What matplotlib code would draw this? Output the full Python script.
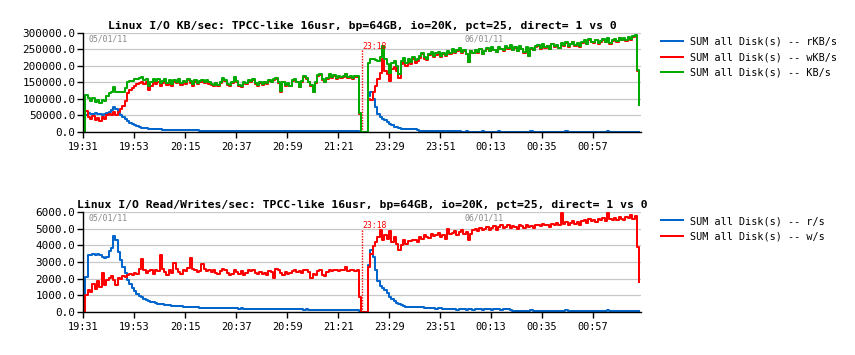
import numpy as np
import matplotlib
matplotlib.use("Agg")
import matplotlib.pyplot as plt

# ---------------- data (one sample per minute of elapsed chart time) ----------------
tick_labels = ["19:31", "19:53", "20:15", "20:37", "20:59", "21:21",
               "23:29", "23:51", "00:13", "00:35", "00:57"]
tick_minutes = [0, 22, 44, 66, 88, 110, 132, 154, 176, 198, 220]
restart_minute = 120.3
restart_label = "23:18"
date_labels = ["05/01/11", "06/01/11"]

rkb = [
    0, 50000, 57000, 56000, 55000, 57000, 55000, 54000, 53000, 55000,
    58000, 62000, 68000, 75000, 70000, 58000, 50000, 44000, 38000, 32000,
    27000, 23000, 20000, 17000, 15000, 13500, 12000, 11000, 10500, 10000,
    9500, 9000, 8500, 8000, 7500, 7000, 6800, 6500, 6200, 6000,
    5800, 5600, 5500, 5300, 5200, 5000, 5000, 4800, 4700, 4600,
    4500, 4400, 4300, 4200, 4200, 4100, 4000, 4000, 3900, 3800,
    3800, 3700, 3700, 3600, 3600, 3500, 3500, 3400, 3400, 3300,
    3300, 3200, 3200, 3200, 3100, 3100, 3100, 3000, 3000, 3000,
    2900, 2900, 2900, 2900, 2800, 2800, 2800, 2800, 2700, 2700,
    2700, 2700, 2600, 2600, 2600, 2600, 2500, 2500, 2500, 2500,
    2500, 2400, 2400, 2400, 2400, 2400, 2300, 2300, 2300, 2300,
    2300, 2300, 2200, 2200, 2200, 2200, 2200, 2200, 2200, 1500,
    0, 0, 0, 110000, 122000, 100000, 77000, 55000, 46000, 40000,
    36000, 30000, 24000, 20000, 16500, 14000, 12000, 10500, 9500, 9000,
    8500, 8000, 8000, 7800, 7500, 4500, 4200, 4200, 4000, 4000,
    4000, 3900, 4000, 3800, 3800, 3800, 3700, 3700, 3600, 3600,
    3500, 3500, 3400, 1500, 1500, 1600, 1500, 1500, 1500, 1500,
    1500, 1500, 1600, 1500, 1500, 1500, 1500, 1500, 1500, 1600,
    1500, 1500, 1500, 1500, 1500, 1500, 1500, 1500, 1500, 1500,
    1500, 1500, 1500, 1600, 1500, 1500, 1500, 1500, 1500, 1500,
    1500, 1500, 1500, 1500, 1500, 1500, 1500, 1500, 1600, 1500,
    1500, 1500, 1500, 1500, 1500, 1500, 1500, 1500, 1500, 1500,
    1500, 1500, 1500, 1500, 1500, 1500, 1600, 1500, 1500, 1500,
    1500, 1500, 1500, 1500, 1500, 1500, 1500, 1500, 1500, 1500,
    1000,
]

wkb = [
    0, 63000, 45000, 38000, 48000, 35000, 42000, 33000, 45000, 38000,
    50000, 55000, 52000, 60000, 50000, 62000, 70000, 78000, 95000, 118000,
    128000, 133000, 140000, 145000, 148000, 152000, 145000, 150000, 128000, 140000,
    150000, 145000, 152000, 140000, 148000, 155000, 143000, 150000, 138000, 152000,
    147000, 155000, 142000, 150000, 146000, 157000, 149000, 140000, 152000, 145000,
    150000, 153000, 148000, 152000, 146000, 142000, 138000, 145000, 140000, 147000,
    160000, 155000, 142000, 138000, 148000, 163000, 150000, 140000, 135000, 148000,
    145000, 155000, 150000, 158000, 145000, 140000, 147000, 142000, 150000, 145000,
    155000, 150000, 158000, 160000, 148000, 120000, 150000, 140000, 145000, 138000,
    155000, 158000, 150000, 135000, 152000, 168000, 162000, 150000, 140000, 120000,
    148000, 170000, 172000, 158000, 150000, 162000, 172000, 165000, 170000, 160000,
    167000, 165000, 168000, 175000, 165000, 168000, 162000, 166000, 168000, 55000,
    0, 0, 0, 100000, 98000, 120000, 140000, 160000, 180000, 222000,
    185000, 175000, 155000, 190000, 198000, 185000, 165000, 205000, 215000, 200000,
    212000, 205000, 220000, 210000, 215000, 225000, 235000, 222000, 218000, 232000,
    238000, 226000, 234000, 240000, 228000, 236000, 230000, 242000, 235000, 248000,
    238000, 244000, 252000, 240000, 246000, 235000, 212000, 245000, 238000, 246000,
    240000, 250000, 236000, 244000, 252000, 245000, 256000, 248000, 242000, 255000,
    250000, 246000, 258000, 252000, 262000, 248000, 255000, 244000, 258000, 250000,
    240000, 256000, 230000, 252000, 248000, 258000, 262000, 252000, 264000, 256000,
    260000, 250000, 266000, 258000, 262000, 254000, 268000, 262000, 270000, 258000,
    266000, 272000, 262000, 268000, 258000, 270000, 276000, 266000, 280000, 272000,
    270000, 278000, 268000, 274000, 280000, 272000, 282000, 268000, 276000, 280000,
    274000, 284000, 278000, 282000, 276000, 286000, 280000, 288000, 292000, 186000,
    82000,
]

rps = [
    0, 2100, 3400, 3450, 3500, 3420, 3480, 3400, 3280, 3250,
    3300, 3650, 3850, 4550, 4300, 3600, 3100, 2700, 2350, 1950,
    1700, 1450, 1250, 1100, 980, 880, 780, 720, 660, 620,
    580, 540, 500, 480, 460, 430, 410, 400, 390, 370,
    360, 350, 340, 330, 320, 310, 300, 300, 290, 280,
    270, 270, 260, 260, 260, 250, 250, 250, 240, 240,
    230, 230, 230, 220, 220, 220, 220, 210, 220, 210,
    210, 210, 200, 200, 200, 190, 200, 190, 190, 190,
    180, 180, 180, 180, 170, 180, 170, 170, 170, 160,
    170, 160, 160, 160, 160, 150, 160, 150, 150, 150,
    150, 150, 140, 140, 150, 140, 140, 140, 130, 140,
    130, 130, 130, 130, 120, 130, 120, 120, 120, 60,
    0, 0, 0, 2800, 3700, 3300, 2500, 1850, 1550, 1420,
    1300, 1120, 900, 760, 640, 540, 460, 400, 350, 330,
    320, 320, 320, 310, 320, 310, 310, 230, 220, 220,
    220, 220, 210, 220, 220, 210, 210, 210, 160, 160,
    160, 150, 160, 160, 160, 150, 160, 160, 150, 160,
    160, 160, 150, 160, 160, 160, 150, 160, 160, 160,
    150, 160, 160, 160, 150, 80, 80, 80, 80, 80,
    80, 80, 80, 140, 80, 80, 80, 80, 80, 80,
    80, 80, 80, 80, 80, 80, 80, 80, 140, 80,
    80, 80, 80, 80, 80, 80, 80, 80, 80, 80,
    80, 80, 80, 80, 80, 80, 140, 80, 80, 80,
    80, 80, 80, 80, 80, 80, 80, 80, 80, 80,
    60,
]

wps = [
    0, 1000, 1350, 1200, 1700, 1400, 1850, 1500, 2350, 1600,
    1900, 2050, 2150, 1950, 1600, 2050, 2000, 2150, 2100, 2250,
    2300, 2250, 2350, 2300, 2600, 3200, 2500, 2350, 2450, 2550,
    2300, 2500, 2450, 3400, 2600, 2400, 2200, 2500, 2350, 2950,
    2600, 2400, 2300, 2500, 2450, 2650, 3250, 2600, 2500, 2400,
    2450, 2900, 2600, 2450, 2500, 2400, 2500, 2350, 2300, 2450,
    2600, 2550, 2350, 2250, 2300, 2500, 2400, 2300, 2450, 2250,
    2350, 2500, 2450, 2500, 2350, 2300, 2400, 2300, 2350, 2250,
    2450, 2400, 2050, 2600, 2550, 2350, 2250, 2400, 2300, 2350,
    2450, 2500, 2400, 2450, 2350, 2550, 2500, 2400, 2050, 2300,
    2200, 2450, 2500, 2250, 2150, 2400, 2500, 2450, 2550, 2500,
    2450, 2500, 2550, 2700, 2450, 2500, 2550, 2450, 2500, 900,
    0, 0, 0, 2700, 3500, 3950, 4200, 4500, 4900, 4300,
    4600, 4400, 4850, 4200, 4500, 4100, 3750, 4050, 4300, 4100,
    4250, 4250, 4300, 4350, 4200, 4500, 4400, 4600, 4500, 4450,
    4700, 4550, 4600, 4750, 4500, 4650, 4400, 5000, 4700, 4750,
    4850, 4650, 4800, 4900, 4700, 4800, 4350, 4700, 4900, 5000,
    4850, 5050, 4900, 5000, 5100, 4950, 5050, 5150, 4950, 5100,
    5200, 5050, 5100, 5250, 5050, 5150, 5100, 5000, 5200, 5150,
    5050, 5250, 5100, 5150, 5050, 5200, 5250, 5150, 5300, 5200,
    5250, 5100, 5300, 5200, 5350, 5250, 5950, 5300, 5400, 5250,
    5350, 5450, 5300, 5400, 5250, 5450, 5500, 5350, 5600, 5450,
    5550, 5400, 5600, 5500, 5650, 5450, 5950, 5600, 5550, 5650,
    5500, 5700, 5600, 5550, 5700, 5650, 5800, 5600, 5750, 3900,
    1800,
]

# ---------------- styling ----------------
BLUE = "#0066cc"
RED = "#ff0000"
GREEN = "#00aa00"
GRID = "#c8c8c8"
MONO = "DejaVu Sans Mono"
plt.rcParams["font.family"] = MONO

minutes = np.arange(len(rkb))
rkb_a = np.array(rkb, dtype=float)
wkb_a = np.array(wkb, dtype=float)
kb_a = rkb_a + wkb_a

fig = plt.figure(figsize=(8.55, 3.55), dpi=100)
W, H = 855.0, 355.0
ax1 = fig.add_axes([83 / W, (H - 132) / H, 558 / W, 99 / H])
ax2 = fig.add_axes([83 / W, (H - 312) / H, 558 / W, 100 / H])


def style(ax, ymax, ystep, title):
    ax.set_xlim(0, 240.7)
    ax.set_ylim(0, ymax)
    ax.set_yticks(np.arange(0, ymax + 1, ystep))
    ax.yaxis.set_major_formatter(matplotlib.ticker.FormatStrFormatter("%.1f"))
    ax.set_xticks(tick_minutes)
    ax.set_xticklabels(tick_labels)
    ax.grid(axis="y", color=GRID, linewidth=0.9)
    ax.set_axisbelow(True)
    for s in ("top", "right"):
        ax.spines[s].set_visible(False)
    ax.spines["left"].set_linewidth(1.0)
    ax.spines["bottom"].set_linewidth(1.0)
    ax.tick_params(axis="y", direction="out", length=4, width=1, pad=1.5, labelsize=7.9)
    ax.tick_params(axis="x", direction="out", length=4, width=1, pad=3, labelsize=7.4)
    ax.set_title(title, fontsize=8.2, fontweight="bold", pad=3)
    ax.axvline(restart_minute, ymin=0, ymax=0.83, color=RED, linestyle=(0, (1, 1)), linewidth=1.0)
    ax.text(restart_minute, ymax * 0.815, restart_label, color=RED, fontsize=5.9,
            ha="left", va="bottom")
    ax.text(0.009, 0.985, date_labels[0], transform=ax.transAxes, color="#888888",
            fontsize=5.9, ha="left", va="top")
    ax.text(0.684, 0.985, date_labels[1], transform=ax.transAxes, color="#888888",
            fontsize=5.9, ha="left", va="top")


style(ax1, 300000, 50000,
      "Linux I/O KB/sec: TPCC-like 16usr, bp=64GB, io=20K, pct=25, direct= 1 vs 0")
style(ax2, 6000, 1000,
      "Linux I/O Read/Writes/sec: TPCC-like 16usr, bp=64GB, io=20K, pct=25, direct= 1 vs 0")

lw = 1.45
ax1.plot(minutes, rkb_a, drawstyle="steps-post", color=BLUE, lw=lw,
         label="SUM all Disk(s) -- rKB/s")
ax1.plot(minutes, wkb_a, drawstyle="steps-post", color=RED, lw=lw,
         label="SUM all Disk(s) -- wKB/s")
ax1.plot(minutes, kb_a, drawstyle="steps-post", color=GREEN, lw=lw,
         label="SUM all Disk(s) -- KB/s")

ax2.plot(minutes, rps, drawstyle="steps-post", color=BLUE, lw=lw,
         label="SUM all Disk(s) -- r/s")
ax2.plot(minutes, wps, drawstyle="steps-post", color=RED, lw=lw,
         label="SUM all Disk(s) -- w/s")

leg_kw = dict(loc="upper left", bbox_transform=fig.transFigure, frameon=False,
              borderaxespad=0, borderpad=0, handlelength=2.2, handletextpad=0.7,
              labelspacing=0.5, fontsize=7.3)
ax1.legend(bbox_to_anchor=(661 / W, (H - 37) / H), **leg_kw)
ax2.legend(bbox_to_anchor=(661 / W, (H - 216) / H), **leg_kw)

fig.savefig("out.png", dpi=100)
